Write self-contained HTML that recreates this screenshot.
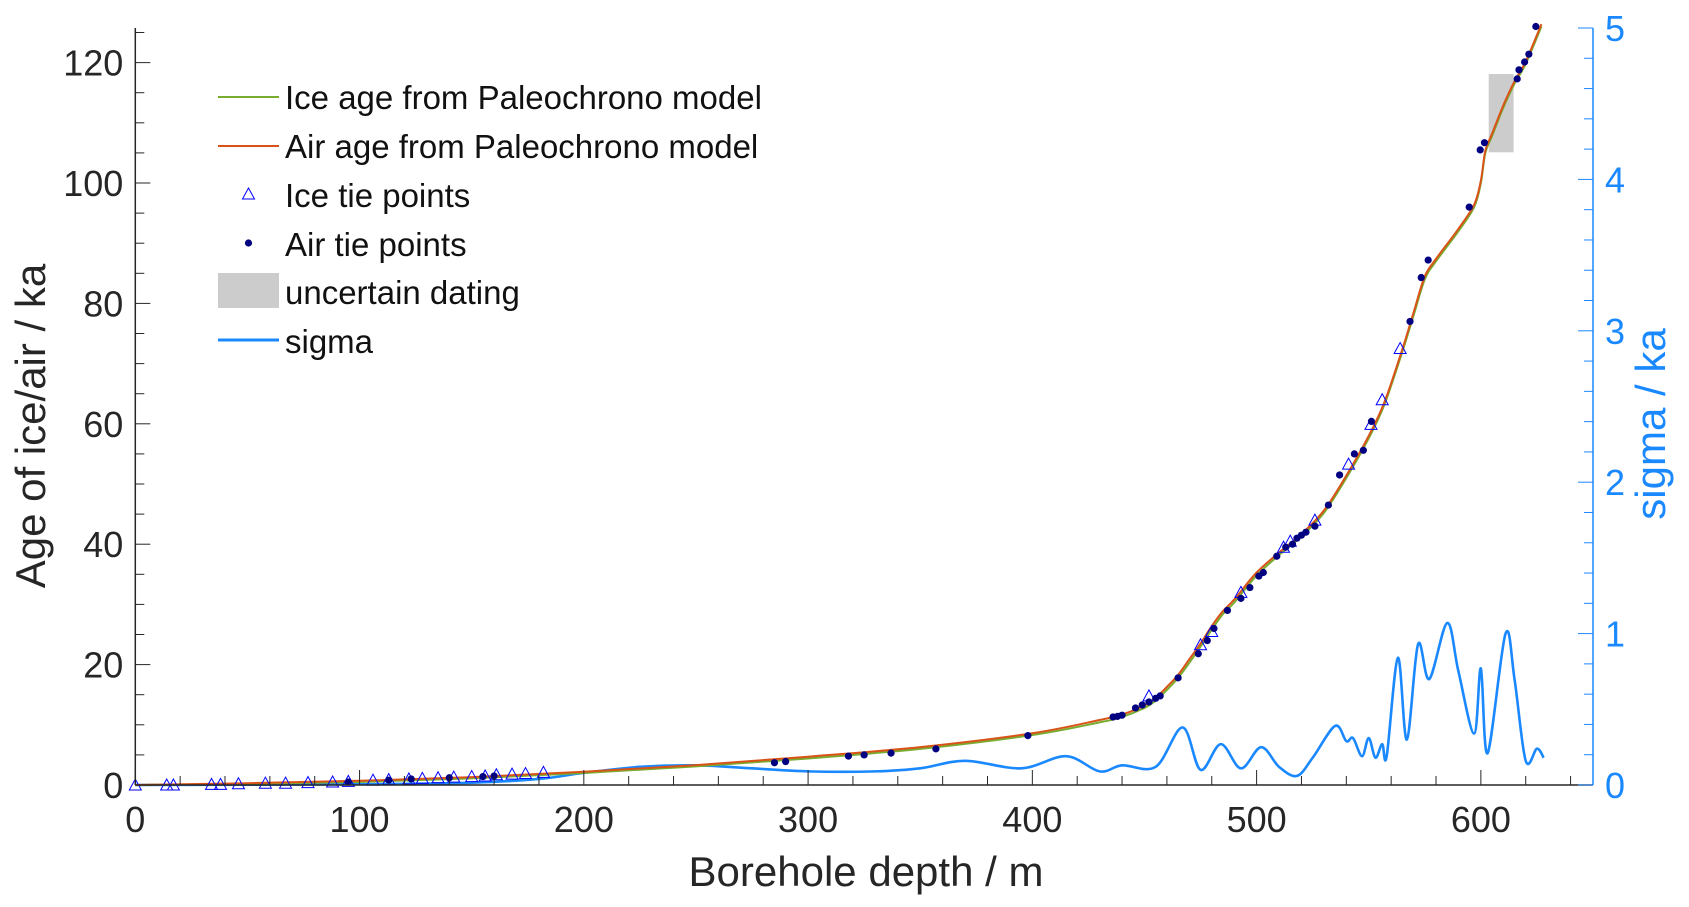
<!DOCTYPE html>
<html><head><meta charset="utf-8">
<style>
html,body{margin:0;padding:0;background:#fff;}
svg{display:block;font-family:"Liberation Sans",Arial,sans-serif;}
</style></head>
<body>
<svg id="chart" width="1689" height="907" viewBox="0 0 1689 907"></svg>
<script>
// ---- data ----
const curveDepth = [0,50,100,150,200,250,300,350,400,430,440,450,455,460,465,470,475,480,485,490,500,510,520,530,540,550,557,565,570,575,580,590,597,600,602,605,610,615,620,627];
const iceAge     = [0,0.2,0.5,1.1,2,3.1,4.4,6,8.3,10.4,11.3,12.8,14.0,15.8,17.8,20.3,23.0,25.8,28.4,30.3,34.8,38.2,41.3,45.2,51.0,57.6,63.2,72.0,78.0,84.0,87.0,92.0,96.0,100,105.0,107.8,112.5,116.5,119.8,126];
const airAge     = [0,0.3,0.7,1.3,2.2,3.3,4.7,6.3,8.6,10.8,11.7,13.2,14.5,16.3,18.3,20.9,23.5,26.4,28.9,30.8,35.3,38.6,41.7,45.6,51.4,58.0,63.6,72.4,78.5,84.5,87.4,92.4,96.4,100.4,105.4,108.2,112.9,116.9,120.2,126.4];
const iceTieDepth = [0,14,17,34,38,46,58,67,77,88,95,106,113,122,128,135,142,150,156,161,168,174,182,452,475,480,493,512,515,526,541,551,556,564];
const iceTieAge   = [0,0,0,0.1,0.1,0.2,0.3,0.3,0.4,0.5,0.6,0.8,0.9,1.0,1.1,1.2,1.3,1.4,1.5,1.7,1.8,1.9,2.1,14.8,23.3,25.5,32,39.5,40.5,44,53.3,59.9,64,72.5];
const airTieDepth = [95,113,123,140,155,160,285,290,318,325,337,357,398,436,438,440,446,449,452,455,457,465,474,478,481,487,493,497,501,503,509,513,516,518,520,522,526,532,537,543.6,547.6,551.2,568.4,573.4,576.5,594.8,599.7,601.6,616.2,617,619.5,621.4,624.5];
const airTieAge   = [0.5,0.8,1,1.2,1.4,1.5,3.7,3.9,4.8,5,5.3,6,8.2,11.3,11.4,11.6,12.8,13.3,13.8,14.4,14.8,17.8,21.8,24,26,29,31,32.8,34.7,35.3,38,39.5,40,41,41.5,42,43,46.5,51.5,55,55.6,60.4,77,84.3,87.2,96,105.5,106.7,117.3,118.8,120.1,121.4,126];
const sigmaDepth = [0,100,150,180,200,225,250,275,300,330,350,370,395,415,430,440,455,467,475,484,493,502,510,518,525,535,540,543,547,550,553,556,558,563,567,572,577,585,590,597,600,603,611,615,620,625,628];
const sigmaVal   = [0,0.005,0.015,0.04,0.08,0.12,0.13,0.11,0.09,0.09,0.11,0.16,0.11,0.19,0.09,0.13,0.12,0.38,0.10,0.27,0.11,0.25,0.12,0.06,0.18,0.39,0.29,0.31,0.19,0.31,0.18,0.27,0.19,0.84,0.30,0.93,0.70,1.07,0.75,0.34,0.77,0.21,1.00,0.70,0.16,0.24,0.18];
const uncertainBox = [603.5,614.6,105.1,118.1];
const xTicks = [0,100,200,300,400,500,600];
const yTicks = [0,20,40,60,80,100,120];
const y2Ticks = [0,1,2,3,4,5];

// ---- axes ----
const L=135.3,R=1593,T=28,B=785;
const xMax=650, yMax=125.75, y2Max=5;
const X=d=>L+d/xMax*(R-L);
const Y=v=>B-v/yMax*(B-T);
const Y2=v=>B-v/y2Max*(B-T);
const NS="http://www.w3.org/2000/svg";
const svg=document.getElementById('chart');
function mk(tag,attrs,parent){const e=document.createElementNS(NS,tag);for(const k in attrs)e.setAttribute(k,attrs[k]);(parent||svg).appendChild(e);return e;}
function smooth(pts){let d=`M${pts[0][0]},${pts[0][1]}`;for(let i=0;i<pts.length-1;i++){const p0=pts[i-1]||pts[i],p1=pts[i],p2=pts[i+1],p3=pts[i+2]||p2;const c1=[p1[0]+(p2[0]-p0[0])/6,p1[1]+(p2[1]-p0[1])/6],c2=[p2[0]-(p3[0]-p1[0])/6,p2[1]-(p3[1]-p1[1])/6];d+=` C${c1[0]},${c1[1]} ${c2[0]},${c2[1]} ${p2[0]},${p2[1]}`;}return d;}

const ub=mk('rect',{x:X(uncertainBox[0]),y:Y(uncertainBox[3]),width:X(uncertainBox[1])-X(uncertainBox[0]),height:Y(uncertainBox[2])-Y(uncertainBox[3]),fill:'#cccccc'});



const sp=mk('path',{d:smooth(sigmaDepth.map((d,i)=>[X(d),Y2(sigmaVal[i])])),fill:'none',stroke:'#1a88ff','stroke-width':2.6});



const ip=mk('path',{d:smooth(curveDepth.map((d,i)=>[X(d),Y(iceAge[i])])),fill:'none',stroke:'#77ac30','stroke-width':2});


const ap=mk('path',{d:smooth(curveDepth.map((d,i)=>[X(d),Y(airAge[i])])),fill:'none',stroke:'#d95319','stroke-width':2});



iceTieDepth.forEach((d,i)=>{const x=X(d),y=Y(iceTieAge[i]);
 const t=mk('polygon',{points:`${x},${y-6} ${x-6},${y+5} ${x+6},${y+5}`,fill:'none',stroke:'#0000ff','stroke-width':1});
 
 });
airTieDepth.forEach((d,i)=>{
 const c=mk('circle',{cx:X(d),cy:Y(airTieAge[i]),r:3.6,fill:'#000080'});
 
 });

const ax=mk('g',{});


mk('line',{x1:L,y1:B,x2:R,y2:B,stroke:'#262626','stroke-width':1.5},ax);
mk('line',{x1:L,y1:T,x2:L,y2:B,stroke:'#262626','stroke-width':1.5},ax);
mk('line',{x1:R,y1:T,x2:R,y2:B,stroke:'#1a88ff','stroke-width':1.5},ax);
for(let d=0;d<=xMax;d+=20){const maj=d%100===0;mk('line',{x1:X(d),y1:B,x2:X(d),y2:B-(maj?15:9),stroke:'#262626','stroke-width':1},ax);}
for(let v=0;v<=yMax;v+=5){const maj=v%20===0;mk('line',{x1:L,y1:Y(v),x2:L+(maj?15:9),y2:Y(v),stroke:'#262626','stroke-width':1},ax);}
for(let k=0;k<=25;k++){const v=k*0.2;const maj=k%5===0;mk('line',{x1:R,y1:Y2(v),x2:R-(maj?15:9),y2:Y2(v),stroke:'#1a88ff','stroke-width':1},ax);}
xTicks.forEach(v=>{const t=mk('text',{x:X(v),y:B+47,'font-size':36,'text-anchor':'middle',fill:'#262626'});t.textContent=v;
 
 });
yTicks.forEach(v=>{const t=mk('text',{x:L-12,y:Y(v)+13,'font-size':36,'text-anchor':'end',fill:'#262626'});t.textContent=v;
 
 });
y2Ticks.forEach(v=>{const t=mk('text',{x:R+12,y:Y2(v)+13,'font-size':36,'text-anchor':'start',fill:'#1a88ff'});t.textContent=v;
 
 });
</script>
<svg width="1689" height="907" style="position:absolute;left:0;top:0">
 <text x="866" y="886" font-size="42" text-anchor="middle" fill="#262626" font-family="Liberation Sans, sans-serif">Borehole depth  / m</text>
 <text transform="translate(45,426) rotate(-90)" font-size="42" text-anchor="middle" fill="#262626" font-family="Liberation Sans, sans-serif">Age of ice/air  / ka</text>
 <text transform="translate(1665,424) rotate(-90)" font-size="42" text-anchor="middle" fill="#1a88ff" font-family="Liberation Sans, sans-serif">sigma  / ka</text>
 <g font-family="Liberation Sans, sans-serif" font-size="33" fill="#111">
  <line x1="218" y1="97" x2="279" y2="97" stroke="#77ac30" stroke-width="2"/>
  <text x="285" y="109">Ice age from Paleochrono model</text>
  <line x1="218" y1="146" x2="279" y2="146" stroke="#d95319" stroke-width="2"/>
  <text x="285" y="158">Air age from Paleochrono model</text>
  <polygon points="248.5,188 242.5,199 254.5,199" fill="none" stroke="#0000ff" stroke-width="1"/>
  <text x="285" y="207">Ice tie points</text>
  <circle cx="248.5" cy="243" r="3.6" fill="#000080"/>
  <text x="285" y="256">Air tie points</text>
  <rect x="218" y="273" width="61" height="35" fill="#cccccc"/>
  <text x="285" y="304">uncertain dating</text>
  <line x1="218" y1="340" x2="279" y2="340" stroke="#1a88ff" stroke-width="3"/>
  <text x="285" y="353">sigma</text>
 </g>
</svg>
</body></html>
